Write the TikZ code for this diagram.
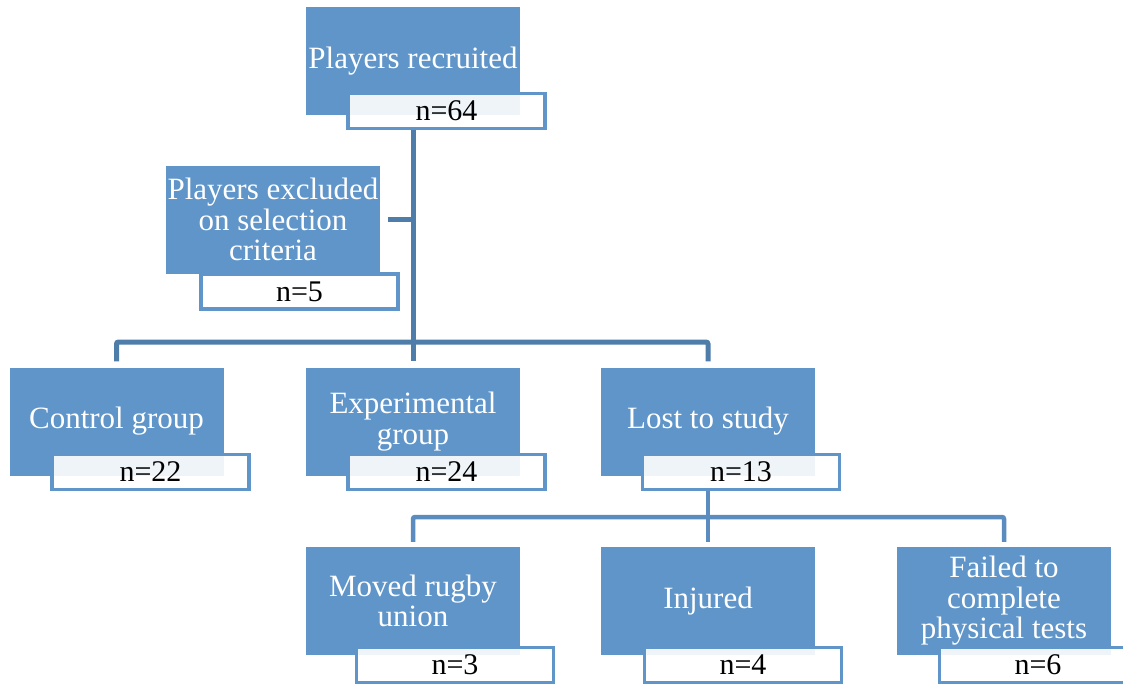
\documentclass[tikz,border=0pt]{standalone}
\usepackage{fontspec}
\setmainfont{Liberation Serif}
\usetikzlibrary{positioning, calc}
\definecolor{boxblue}{HTML}{5F95C9}
\definecolor{linkblue}{HTML}{4F7DA9}
\definecolor{sublinkblue}{HTML}{5A8CC0}

\begin{document}
\begin{tikzpicture}[x=1pt, y=-1pt,
    stage/.style={fill=boxblue, text=white, minimum width=214pt, minimum height=108pt, align=center, inner sep=2pt, font=\fontsize{31}{30.5}\selectfont},
    count/.style={draw=boxblue, line width=3.2pt, fill=white, fill opacity=0.9, text opacity=1, minimum width=197pt, minimum height=35pt, inner sep=0pt, font=\fontsize{30}{30}\selectfont},
    link/.style={draw=linkblue, line width=5pt, rounded corners=2pt},
    sublink/.style={draw=sublinkblue, line width=4.5pt, rounded corners=2pt}]
    \useasboundingbox (0,0) rectangle (1123,685);
    % boxes
    \node[stage] (rec) at (413,61) {Players recruited};
    \node[count] (rec-n) at (446.5,111) {n=64};
    \node[stage] (excl) at (273,219.5) {Players excluded\\on selection\\criteria};
    \node[count] (excl-n) at (299.5,291.5) {n=5};
    \node[stage] (ctrl) at (116.5,421.5) {Control group};
    \node[count] (ctrl-n) at (150.5,472) {n=22};
    \node[stage] (exp) at (413,421.5) {Experimental\\group};
    \node[count] (exp-n) at (446.5,472) {n=24};
    \node[stage] (lost) at (708,421.5) {Lost to study};
    \node[count] (lost-n) at (741,472) {n=13};
    \node[stage] (moved) at (413,601) {Moved rugby\\union};
    \node[count] (moved-n) at (455,665) {n=3};
    \node[stage] (injured) at (708,601) {Injured};
    \node[count] (injured-n) at (743,665) {n=4};
    \node[stage] (failed) at (1004,601) {Failed to\\complete\\physical tests};
    \node[count] (failed-n) at (1038,665) {n=6};
    % connectors
    \coordinate (split) at (413,342);
    \coordinate (subsplit) at (708,517);
    \draw[link] (rec-n.south -| rec) -- (split);
    \draw[link] ($(excl.east)+(7,0)$) -- (excl.east -| split);
    \draw[link] ($(ctrl.north)+(0,-6)$) -- (ctrl.north |- split) -- (lost.north |- split) -- ($(lost.north)+(0,-6)$);
    \draw[link] (split) -- ($(exp.north)+(0,-6)$);
    \draw[sublink] (lost-n.south -| lost) -- (subsplit);
    \draw[sublink] ($(moved.north)+(0,-5)$) -- (moved.north |- subsplit) -- (failed.north |- subsplit) -- ($(failed.north)+(0,-5)$);
    \draw[sublink] (subsplit) -- ($(injured.north)+(0,-5)$);
\end{tikzpicture}
\end{document}
